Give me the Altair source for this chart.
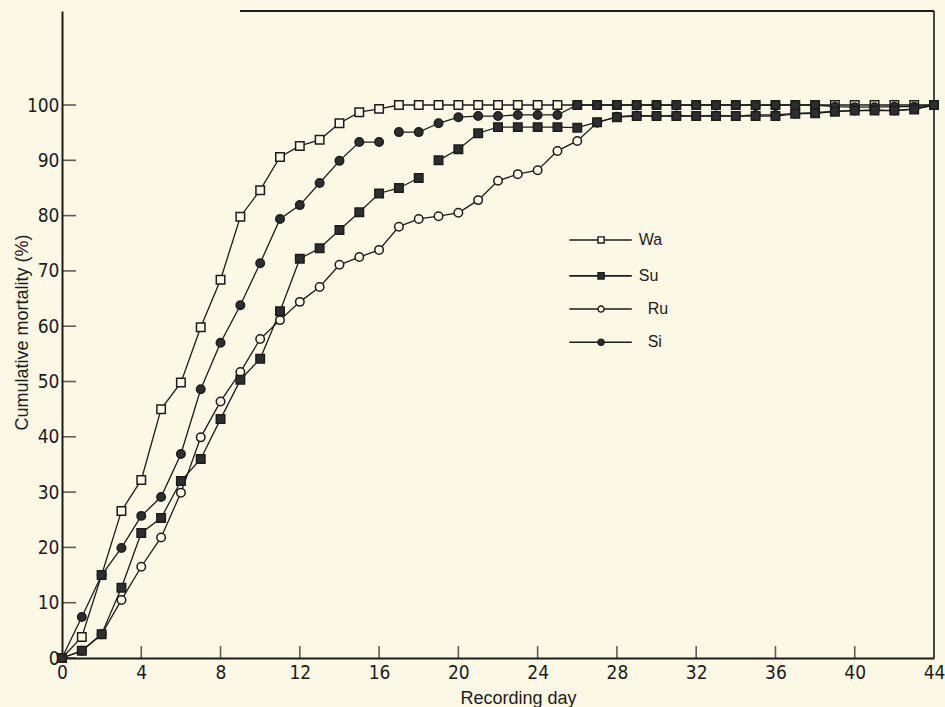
import altair as alt
import pandas as pd

# ---------------- data ----------------
days = list(range(0, 45))
series_names = ["Wa", "Su", "Ru", "Si"]

wa = [0, 3.8, 15.0, 26.6, 32.2, 45.0, 49.8, 59.8, 68.4, 79.8,
      84.6, 90.6, 92.6, 93.7, 96.7, 98.7, 99.3, 100, 100, 100,
      100, 100, 100, 100, 100, 100, 100, 100, 100, 100,
      100, 100, 100, 100, 100, 100, 100, 100, 100, 100,
      100, 100, 100, 100, 100]
su = [0, 1.3, 4.3, 12.7, 22.6, 25.3, 32.0, 36.0, 43.2, 50.3,
      54.1, 62.7, 72.2, 74.1, 77.4, 80.6, 84.0, 85.0, 86.8, 90.0,
      92.0, 94.9, 96.0, 96.0, 96.0, 96.0, 95.9, 96.9, 97.8, 98.0,
      98.0, 98.0, 98.0, 98.0, 98.0, 98.0, 98.0, 98.4, 98.5, 98.8,
      99.0, 99.0, 99.0, 99.2, 100]
ru = [0, 1.3, 4.3, 10.5, 16.5, 21.8, 29.9, 39.9, 46.4, 51.7,
      57.7, 61.1, 64.4, 67.1, 71.1, 72.5, 73.8, 78.0, 79.4, 79.9,
      80.5, 82.8, 86.3, 87.5, 88.2, 91.7, 93.5, 96.8, 97.9, 98.1,
      98.0, 98.1, 98.0, 98.1, 98.0, 98.2, 98.2, 98.5, 98.6, 98.9,
      99.0, 99.1, 99.0, 99.3, 100]
si = [0, 7.4, 15.0, 19.9, 25.7, 29.1, 36.9, 48.6, 57.0, 63.8,
      71.4, 79.4, 81.9, 85.9, 89.9, 93.3, 93.3, 95.1, 95.1, 96.7,
      97.8, 98.0, 98.0, 98.2, 98.2, 98.2, 100, 100, 100, 100,
      100, 100, 100, 100, 100, 100, 100, 100, 100, 99.7,
      99.6, 99.6, 99.7, 99.7, 100]

# pen breaks visible in the figure (line interrupted after this day)
breaks = {"Su": [18], "Si": [16]}

x_ticks = [0, 4, 8, 12, 16, 20, 24, 28, 32, 36, 40, 44]
y_ticks = [0, 10, 20, 30, 40, 50, 60, 70, 80, 90, 100]

# ---------------- styling ----------------
BG = "#FBF8E6"
INK = "#1c1c1c"
DARK = "#2e2e2e"
W, H = 872, 647
TICK_FONT = "Liberation Sans Narrow, DejaVu Sans Condensed, Roboto"
TEXT_FONT = "Liberation Sans"

values = {"Wa": wa, "Su": su, "Ru": ru, "Si": si}
z_order = {"Wa": 0, "Ru": 1, "Si": 2, "Su": 3}
rows = []
for s in series_names:
    seg = 0
    for d, v in zip(days, values[s]):
        rows.append({"series": s, "day": d, "mortality": v,
                     "seg": f"{s}{seg}", "z": z_order[s]})
        if d in breaks.get(s, []):
            seg += 1
df = pd.DataFrame(rows)

shape_scale = alt.Scale(domain=series_names,
                        range=["square", "square", "circle", "circle"])
fill_scale = alt.Scale(domain=series_names, range=[BG, DARK, BG, DARK])
size_scale = alt.Scale(domain=series_names, range=[72, 72, 42, 50])

xs = alt.Scale(domain=[0, 44], nice=False, zero=False)
ys = alt.Scale(domain=[0, 117], nice=False, zero=False)

x_axis = alt.Axis(values=x_ticks, ticks=False, grid=False, domainWidth=2,
                  domainColor=INK, labelFont=TICK_FONT, labelFontSize=19,
                  labelColor=INK, labelPadding=5, labelFlush=False,
                  title="Recording day", titleFont=TEXT_FONT,
                  titleFontSize=18, titleFontWeight="normal",
                  titleColor=INK, titleX=456, titleY=45,
                  titleBaseline="alphabetic", titleAlign="center")
y_axis = alt.Axis(values=y_ticks, ticks=False, grid=False, domainWidth=2,
                  domainColor=INK, labelFont=TICK_FONT, labelFontSize=19,
                  labelColor=INK, labelPadding=3, labelFlush=False,
                  title="Cumulative mortality (%)", titleFont=TEXT_FONT,
                  titleFontSize=18, titleFontWeight="normal",
                  titleColor=INK, titleAngle=-90, titleX=-40, titleY=321,
                  titleAlign="center", titleBaseline="middle")

base = alt.Chart(df)

lines = base.mark_line(color=INK, strokeWidth=1.3).encode(
    x=alt.X("day:Q", scale=xs, axis=x_axis),
    y=alt.Y("mortality:Q", scale=ys, axis=y_axis),
    detail="seg:N",
    order="day:Q",
)

points = base.mark_point(stroke=INK, strokeWidth=1.5, opacity=1,
                         filled=False).encode(
    x=alt.X("day:Q", scale=xs),
    y=alt.Y("mortality:Q", scale=ys),
    shape=alt.Shape("series:N", scale=shape_scale, legend=None),
    fill=alt.Fill("series:N", scale=fill_scale, legend=None),
    size=alt.Size("series:N", scale=size_scale, legend=None),
    order="z:Q",
)

# inward tick marks
ytick_df = pd.DataFrame({"v": y_ticks})
xtick_df = pd.DataFrame({"v": x_ticks[1:-1]})
yticks = alt.Chart(ytick_df).mark_tick(orient="horizontal", size=14,
                                       thickness=1.6, color=INK).encode(
    y=alt.Y("v:Q", scale=ys), x=alt.value(7))
xticks = alt.Chart(xtick_df).mark_tick(orient="vertical", size=12,
                                       thickness=1.6, color=INK).encode(
    x=alt.X("v:Q", scale=xs), y=alt.value(H - 6))

# frame: right border and partial top border
frame_df = pd.DataFrame({"k": [0]})
right_border = alt.Chart(frame_df).mark_rule(color=INK, strokeWidth=1.6).encode(
    x=alt.value(W), y=alt.value(0), y2=alt.value(H))
top_border = alt.Chart(frame_df).mark_rule(color=INK, strokeWidth=2).encode(
    x=alt.value(178), x2=alt.value(W), y=alt.value(0))

# in-plot legend (placed in data coordinates)
leg_y = [75.6, 69.1, 63.1, 57.1]
leg_tx = [29.1, 29.1, 29.55, 29.55]
leg_df = pd.DataFrame({"series": series_names, "ly": leg_y,
                       "x0": [25.6] * 4, "x1": [28.75] * 4,
                       "xm": [27.2] * 4, "tx": leg_tx})
leg_lines = alt.Chart(leg_df).mark_rule(color=INK, strokeWidth=1.6).encode(
    x=alt.X("x0:Q", scale=xs), x2="x1:Q", y=alt.Y("ly:Q", scale=ys))
leg_pts = alt.Chart(leg_df).mark_point(stroke=INK, strokeWidth=1.4, size=38,
                                       opacity=1).encode(
    x=alt.X("xm:Q", scale=xs), y=alt.Y("ly:Q", scale=ys),
    shape=alt.Shape("series:N", scale=shape_scale, legend=None),
    fill=alt.Fill("series:N", scale=fill_scale, legend=None),
)
leg_txt = alt.Chart(leg_df).mark_text(align="left", baseline="middle",
                                      font=TEXT_FONT, fontSize=16,
                                      color=INK).encode(
    x=alt.X("tx:Q", scale=xs), y=alt.Y("ly:Q", scale=ys), text="series:N")

chart = alt.layer(
    lines, yticks, xticks, right_border, top_border,
    leg_lines, leg_pts, leg_txt, points,
).properties(
    width=W, height=H,
    padding={"left": 62, "top": 11, "right": 11, "bottom": 49},
    autosize=alt.AutoSizeParams(type="none"),
    background=BG,
).configure_view(stroke=None, fill=BG)

chart.save("out.html", embed_options={"renderer": "svg", "actions": False})
